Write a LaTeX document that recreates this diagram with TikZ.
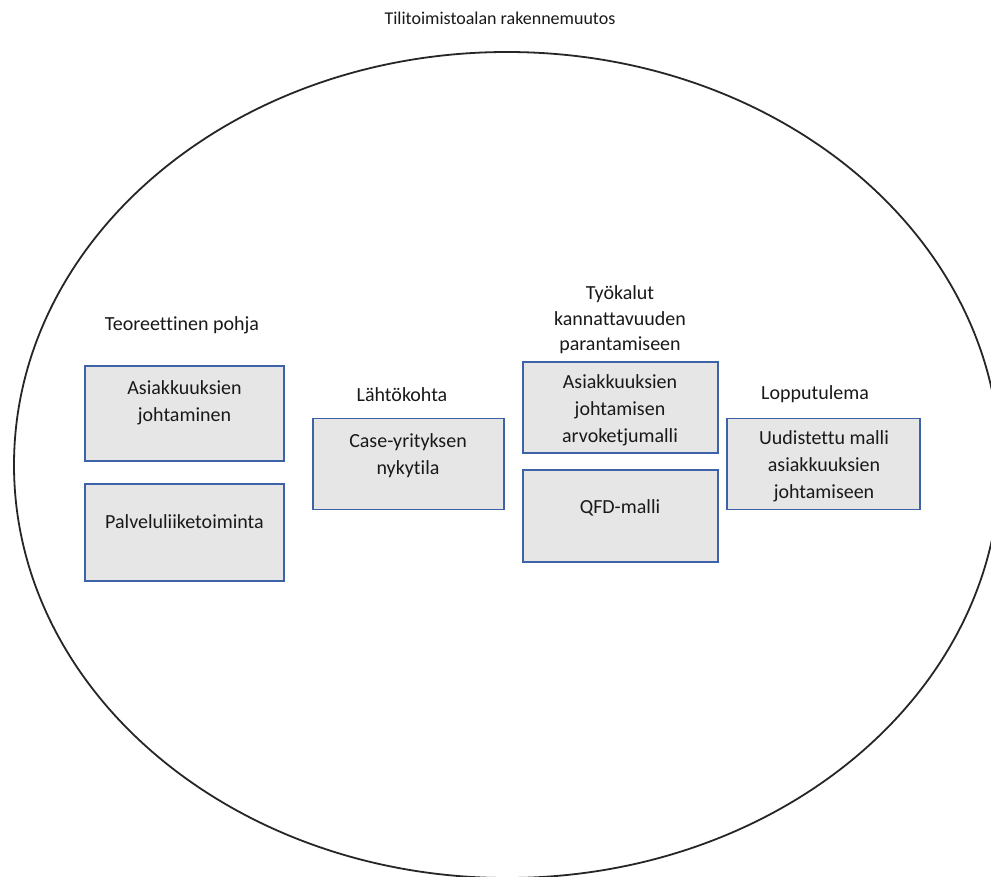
\documentclass[tikz,border=0pt]{standalone}
\usepackage{fontspec}
\setmainfont{Carlito}[Ligatures=NoCommon]
\usetikzlibrary{shapes.geometric}
\definecolor{boxfill}{RGB}{231,230,230}
\definecolor{boxline}{RGB}{62,98,168}
\definecolor{txt}{RGB}{25,25,25}
\begin{document}
\begin{tikzpicture}[x=1pt,y=-1pt,
  box/.style={draw=boxline, fill=boxfill, line width=1.4pt, inner sep=0pt},
  btxt/.style={align=center, text=txt, inner sep=0pt, font=\fontsize{20}{27}\selectfont},
  lbl/.style={align=center, text=txt, inner sep=0pt, font=\fontsize{20}{25.5}\selectfont},
  ttl/.style={text=txt, inner sep=0pt, font=\fontsize{18}{20}\selectfont}]
\useasboundingbox (0,0) rectangle (991,876);
\clip (0,0) rectangle (991,876);
\fill[white] (0,0) rectangle (991,876);
% outer ellipse
\node[draw=black!85, line width=1.8pt, ellipse, inner sep=0pt, minimum width=986pt, minimum height=826pt] (outer) at (507,465) {};
\node[ttl] (title) at (500,18) {Tilitoimistoalan rakennemuutos};
% group labels
\node[lbl] (l1) at (182,325) {Teoreettinen pohja};
\node[lbl] (l2) at (402,395) {Lähtökohta};
\node[lbl] (l3) at (620,320) {Työkalut\\kannattavuuden\\parantamiseen};
\node[lbl] (l4) at (815,394) {Lopputulema};
% boxes
\node[box, minimum width=199pt, minimum height=95pt] (b1) at (184.5,413.5) {};
\node[box, minimum width=199pt, minimum height=97pt] (b2) at (184.5,532.5) {};
\node[box, minimum width=191pt, minimum height=91pt] (b3) at (408.5,464) {};
\node[box, minimum width=195pt, minimum height=91pt] (b4) at (620.5,407.5) {};
\node[box, minimum width=195pt, minimum height=92pt] (b5) at (620.5,516) {};
\node[box, minimum width=193pt, minimum height=91pt] (b6) at (823.5,464) {};
% box texts
\node[btxt] (t1) at (184.5,402.5) {Asiakkuuksien\\johtaminen};
\node[btxt] (t2) at (184.5,522) {Palveluliiketoiminta};
\node[btxt] (t3) at (408,455.5) {Case-yrityksen\\nykytila};
\node[btxt] (t4) at (620,410) {Asiakkuuksien\\johtamisen\\arvoketjumalli};
\node[btxt] (t5) at (620,508) {QFD-malli};
\node[btxt] (t6) at (824,466) {Uudistettu malli\\asiakkuuksien\\johtamiseen};
\end{tikzpicture}
\end{document}
